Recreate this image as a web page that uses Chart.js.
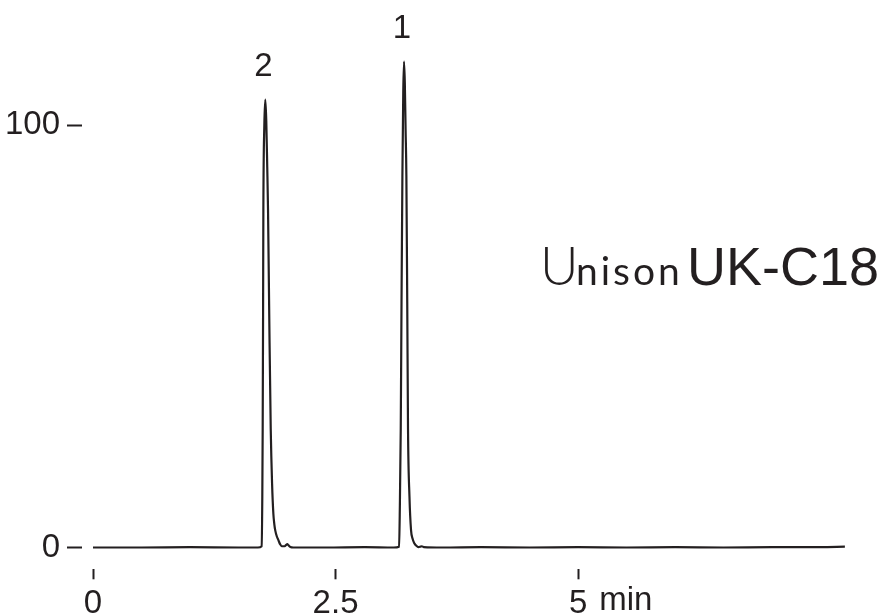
<!DOCTYPE html>
<html>
<head>
<meta charset="utf-8">
<script src="https://cdn.jsdelivr.net/npm/chart.js@4.4.1/dist/chart.umd.min.js"></script>
<style>
  html, body { margin: 0; padding: 0; background: #fff; }
  #wrap { width: 884px; height: 616px; position: relative; }
</style>
</head>
<body>
<div id="wrap"><canvas id="chromChart"></canvas></div>
<script>
// ─── Chromatogram data ───────────────────────────────────────────────
const retentionTimes = [
  0, 0.5, 1.0, 1.5, 1.70,
  1.739, 1.745, 1.749, 1.753, 1.756, 1.766, 1.776, 1.786, 1.796, 1.804,
  1.818, 1.832, 1.846, 1.859, 1.869, 1.879, 1.895, 1.910, 1.928, 1.945,
  1.975, 1.995, 2.003, 2.012, 2.035, 2.065, 2.4, 2.8, 3.1,
  3.155, 3.163, 3.172, 3.180, 3.189, 3.198, 3.206, 3.214, 3.222, 3.230,
  3.239, 3.247, 3.262, 3.278, 3.295, 3.312, 3.333, 3.354, 3.375, 3.389,
  3.41, 3.6, 4.0, 4.5, 5.0, 5.5, 6.0, 6.5, 7.0, 7.5, 7.75
];
const signal = [
  0, 0, 0.1, 0, 0,
  0.3, 12, 28, 55, 80, 100, 106, 101, 90, 80,
  52, 28, 15, 8, 5.5, 4, 2.6, 1.8, 0.8, 0.3,
  0.3, 0.7, 0.8, 0.6, 0.1, 0, 0, 0.1, 0,
  0.2, 10, 28, 58, 88, 108, 115, 110, 99, 88,
  58, 28, 12, 4.1, 2, 1, 0.4, 0.1, 0.2, 0.3,
  0.1, 0, 0.1, 0, 0.1, 0, 0.1, 0, 0.1, 0.1, 0.2
];

// ─── Axis ticks ──────────────────────────────────────────────────────
const xTickValues = [0, 2.5, 5];
const yTickValues = [0, 100];

// ─── Peak labels ─────────────────────────────────────────────────────
const peakNames = ["2", "1"];
const peakTimes = [1.776, 3.206];
const peakHeights = [106, 115];

const INK = "#231f20";
const SANS = "'Liberation Sans', Arial, sans-serif";
const TICK_FONT = { family: SANS, size: 33 };

// Draws peak numbers, the "min" unit and the column name
const annotationPlugin = {
  id: "chromAnnotations",
  afterDraw(chart) {
    const { ctx, scales } = chart;
    const xs = scales.x, ys = scales.y;
    ctx.save();
    ctx.fillStyle = INK;

    // peak numbers above each apex
    ctx.font = `33px ${SANS}`;
    ctx.textAlign = "center";
    ctx.textBaseline = "alphabetic";
    peakNames.forEach((name, i) => {
      ctx.fillText(name, xs.getPixelForValue(peakTimes[i]) - 2, ys.getPixelForValue(peakHeights[i]) - 24);
    });

    // unit after the last x tick label
    const last = xTickValues[xTickValues.length - 1];
    const halfW = ctx.measureText(String(last)).width / 2;
    ctx.textAlign = "left";
    ctx.textBaseline = "top";
    const opts = xs.options;
    ctx.fillText("min", xs.getPixelForValue(last) + halfW + 12, xs.top + opts.grid.tickLength + opts.ticks.padding);

    // column name
    ctx.textBaseline = "alphabetic";
    ctx.font = "300 53px Lato, 'Open Sans', sans-serif";
    ctx.fillText("U", 540, 285);
    ctx.font = "400 39px Lato, 'Open Sans', sans-serif";
    ctx.letterSpacing = "3px";
    ctx.fillText("nison", 576, 285);
    ctx.letterSpacing = "0px";
    ctx.font = `54px ${SANS}`;
    ctx.textAlign = "right";
    ctx.fillText("UK-C18", 879, 285);
    ctx.restore();
  },
};

new Chart(document.getElementById("chromChart").getContext("2d"), {
  type: "line",
  data: {
    datasets: [
      {
        data: retentionTimes.map((t, i) => ({ x: t, y: signal[i] })),
        borderColor: INK,
        borderWidth: 2.2,
        pointRadius: 0,
        cubicInterpolationMode: "monotone",
        fill: false,
      },
    ],
  },
  options: {
    responsive: true,
    maintainAspectRatio: false,
    animation: false,
    layout: { padding: { top: 32, right: 10, left: 0, bottom: 0 } },
    plugins: { legend: { display: false }, tooltip: { enabled: false } },
    scales: {
      x: {
        type: "linear",
        min: -0.1134,
        max: 8.05,
        border: { display: false },
        grid: { drawOnChartArea: false, drawTicks: true, tickLength: 10, tickWidth: 2, tickColor: INK },
        ticks: { color: INK, font: TICK_FONT, padding: 5, maxRotation: 0 },
        afterBuildTicks: (scale) => { scale.ticks = xTickValues.map((v) => ({ value: v })); },
        afterFit: (scale) => { scale.height = 46.7; },
      },
      y: {
        min: -5.16,
        max: 122.02,
        border: { display: false },
        grid: { drawOnChartArea: false, drawTicks: true, tickLength: 15, tickWidth: 2, tickColor: INK },
        ticks: { color: INK, font: TICK_FONT, padding: 7 },
        afterBuildTicks: (scale) => { scale.ticks = yTickValues.map((v) => ({ value: v })); },
        afterFit: (scale) => { scale.width = 82; },
      },
    },
  },
  plugins: [annotationPlugin],
});
</script>
</body>
</html>
